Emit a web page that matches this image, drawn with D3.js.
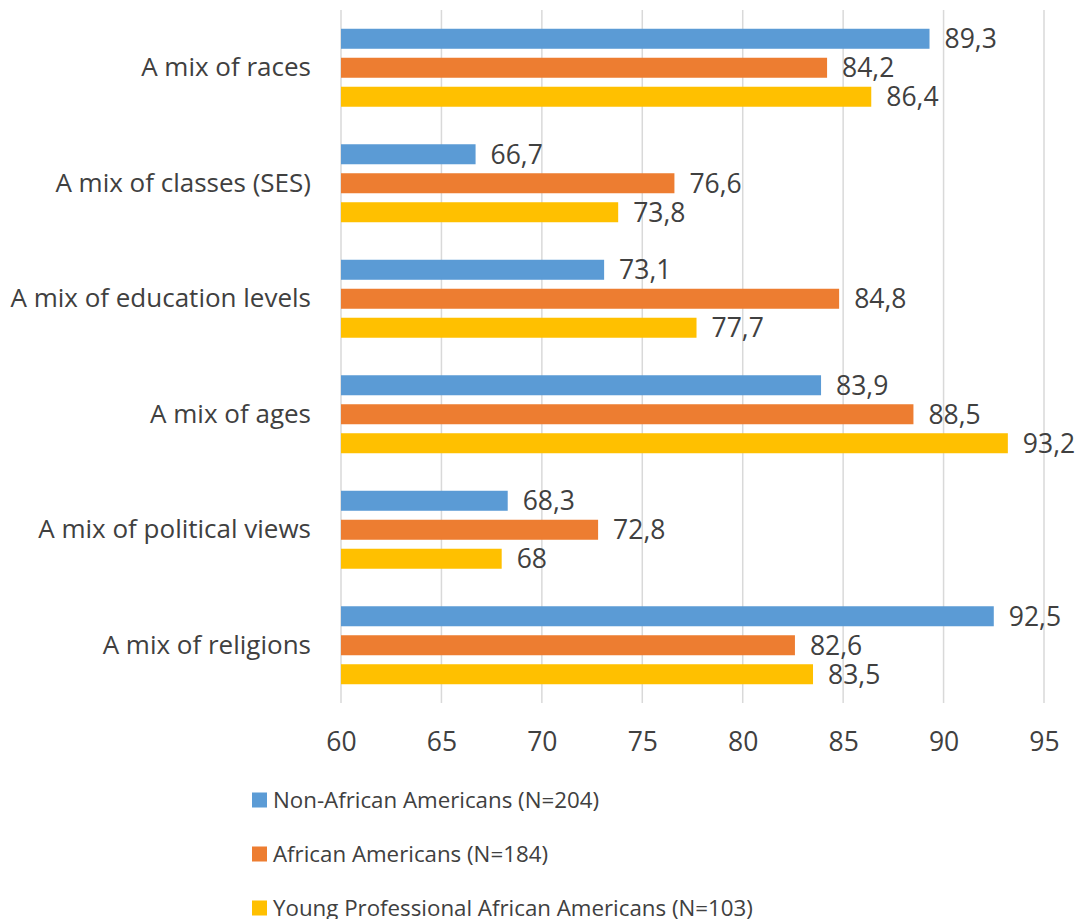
<!DOCTYPE html>
<html>
<head>
<meta charset="utf-8">
<script src="https://cdn.jsdelivr.net/npm/d3@7"></script>
<style>
  body { margin: 0; background: #fff; }
  text { font-family: "Open Sans", sans-serif; fill: #404040; }
</style>
</head>
<body>
<svg width="1081" height="919"></svg>
<script>
var categories = ["A mix of races", "A mix of classes (SES)", "A mix of education levels",
  "A mix of ages", "A mix of political views", "A mix of religions"];
var seriesNames = ["Non-African Americans (N=204)", "African Americans (N=184)",
  "Young Professional African Americans (N=103)"];
var nonAfrican = [89.3, 66.7, 73.1, 83.9, 68.3, 92.5];
var african = [84.2, 76.6, 84.8, 88.5, 72.8, 82.6];
var youngPro = [86.4, 73.8, 77.7, 93.2, 68, 83.5];
var tickValues = [60, 65, 70, 75, 80, 85, 90, 95];
var colors = ["#5b9bd5", "#ed7d31", "#ffc000"];

var series = [nonAfrican, african, youngPro];

var svg = d3.select("svg");
var labelSize = 26, valueSize = 26.5, legendSize = 22.3;

var x = d3.scaleLinear().domain([60, 95]).range([341, 1044]);
var y = d3.scaleBand().domain(categories).range([10, 703]);
var yInner = d3.scaleBand().domain(d3.range(3)).range([0, y.bandwidth()])
  .paddingInner(0.31).paddingOuter(0.647);

// gridlines
svg.append("g")
  .selectAll("line")
  .data(tickValues)
  .join("line")
  .attr("x1", d => x(d)).attr("x2", d => x(d))
  .attr("y1", 10).attr("y2", 703)
  .attr("stroke", "#d9d9d9")
  .attr("stroke-width", 1.5);

// x axis labels
var xAxis = svg.append("g")
  .attr("transform", "translate(0,703)")
  .call(d3.axisBottom(x).tickValues(tickValues).tickSize(0).tickPadding(29));
xAxis.select(".domain").remove();
xAxis.selectAll("text")
  .style("font-size", valueSize + "px")
  .style("font-family", "'Open Sans', sans-serif")
  .attr("fill", "#404040");

// category labels
var yAxis = svg.append("g")
  .attr("transform", "translate(341,0)")
  .call(d3.axisLeft(y).tickSize(0).tickPadding(30));
yAxis.select(".domain").remove();
yAxis.selectAll("text")
  .style("font-size", labelSize + "px")
  .style("font-family", "'Open Sans', sans-serif")
  .attr("fill", "#404040");

var fmt = d => String(d).replace(".", ",");

// bars
var groups = svg.append("g")
  .selectAll("g")
  .data(categories)
  .join("g")
  .attr("transform", d => "translate(0," + y(d) + ")");

groups.each(function(cat, ci) {
  var g = d3.select(this);
  series.forEach(function(vals, si) {
    g.append("rect")
      .attr("x", x(60))
      .attr("y", yInner(si))
      .attr("width", x(vals[ci]) - x(60))
      .attr("height", yInner.bandwidth())
      .attr("fill", colors[si]);
    g.append("text")
      .attr("x", x(vals[ci]) + 15)
      .attr("y", yInner(si) + yInner.bandwidth() / 2)
      .attr("dy", "0.35em")
      .style("font-size", valueSize + "px")
      .text(fmt(vals[ci]));
  });
});

// legend
var legend = svg.append("g")
  .selectAll("g")
  .data(seriesNames)
  .join("g")
  .attr("transform", (d, i) => "translate(252," + (800 + i * 54) + ")");
legend.append("rect")
  .attr("x", 0).attr("y", -7.5)
  .attr("width", 15).attr("height", 15)
  .attr("fill", (d, i) => colors[i]);
legend.append("text")
  .attr("x", 21)
  .attr("dy", "0.35em")
  .style("font-size", legendSize + "px")
  .text(d => d);
</script>
</body>
</html>
